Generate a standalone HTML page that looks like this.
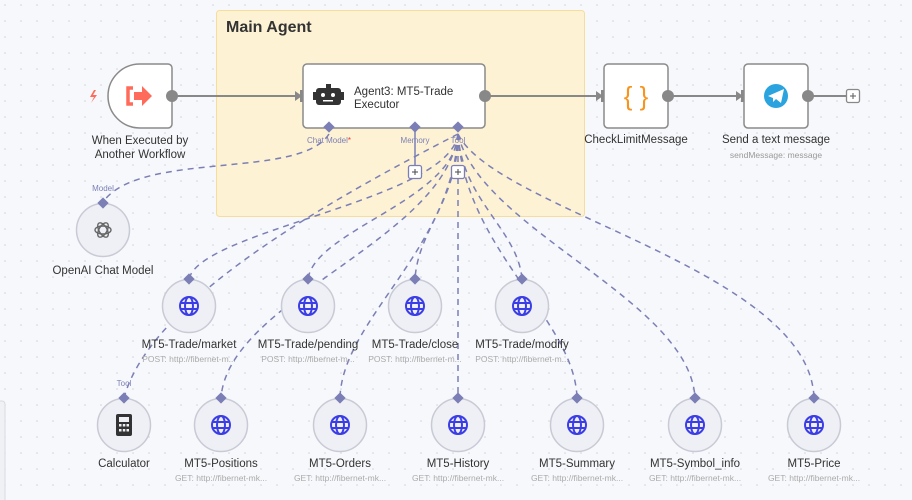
<!DOCTYPE html>
<html><head><meta charset="utf-8"><style>
html,body{margin:0;padding:0;width:912px;height:500px;overflow:hidden;background:#f7f8fb;}
svg{display:block;font-family:"Liberation Sans",sans-serif;}
</style></head><body>
<svg width="912" height="500" viewBox="0 0 912 500" xmlns="http://www.w3.org/2000/svg">
<defs>
<pattern id="dots" width="16" height="16" patternUnits="userSpaceOnUse" x="4" y="4">
<circle cx="1" cy="1" r="0.8" fill="#cfd2da"/></pattern>
<g id="globe"><circle r="9" fill="none" stroke="#3b3de6" stroke-width="2"/><ellipse rx="4" ry="9" fill="none" stroke="#3b3de6" stroke-width="2"/><line x1="-9" y1="-3" x2="9" y2="-3" stroke="#3b3de6" stroke-width="2"/><line x1="-9" y1="3" x2="9" y2="3" stroke="#3b3de6" stroke-width="2"/></g>
</defs>
<rect width="912" height="500" fill="#f7f8fb"/>
<rect width="912" height="500" fill="url(#dots)"/>
<rect x="-4" y="401" width="9" height="110" rx="3" fill="#f0f1f5" stroke="#d8dae2"/>
<!-- group -->
<rect x="216.5" y="10.5" width="368" height="206" rx="3" fill="#fdf2d4" stroke="#f6dd9a"/>
<text x="226" y="32" font-size="16" font-weight="bold" fill="#333">Main Agent</text>

<!-- main connections -->
<g stroke="#888" stroke-width="2" fill="none">
<line x1="172" y1="96" x2="298" y2="96"/>
<line x1="485" y1="96" x2="599" y2="96"/>
<line x1="668" y1="96" x2="739" y2="96"/>
<line x1="808" y1="96" x2="847" y2="96"/>
</g>
<g fill="#888">
<polygon points="295,91 302,96 295,101"/><rect x="300" y="90" width="5" height="12"/>
<polygon points="596,91 603,96 596,101"/><rect x="601" y="90" width="5" height="12"/>
<polygon points="736,91 743,96 736,101"/><rect x="741" y="90" width="5" height="12"/>
</g>

<!-- dashed sub-connections -->
<g stroke="#7c7fb6" stroke-width="1.5" fill="none" stroke-dasharray="6,5">
<path d="M329,134 C300,180 140,150 103,202"/>
<path d="M458,134 C450,200 200,230 189,279"/>
<path d="M458,134 C455,200 315,230 308,279"/>
<path d="M458,134 C458,200 418,230 415,279"/>
<path d="M458,134 C462,200 518,230 522,279"/>
<path d="M458,134 C330,200 150,300 124,398"/>
<path d="M458,134 C445,240 228,300 221,398"/>
<path d="M458,134 C452,250 342,320 340,398"/>
<path d="M458,134 L458,398"/>
<path d="M458,134 C465,250 575,320 577,398"/>
<path d="M458,134 C480,230 690,300 695,398"/>
<path d="M458,134 C495,210 810,270 814,398"/>
</g>
<line x1="415" y1="130" x2="415" y2="166" stroke="#7c7fb6" stroke-width="1.5"/>

<!-- trigger -->
<path d="M140,64 H168 a4,4 0 0 1 4,4 V124 a4,4 0 0 1 -4,4 H140 a32,32 0 0 1 -32,-32 a32,32 0 0 1 32,-32 Z" fill="#fff" stroke="#8a8a8a" stroke-width="1.5"/>
<path d="M133,88 h-5 v16 h5" fill="none" stroke="#ff6b5a" stroke-width="3.5"/>
<polygon points="134,92 142,92 142,86 152,96 142,106 142,100 134,100" fill="#ff6b5a"/>
<path d="M94,90 l-4,7 h4 l-3,6 l6,-8 h-4 l3,-5z" fill="#ff6b5a"/>
<circle cx="172" cy="96" r="6" fill="#888"/>
<text x="140" y="144" font-size="11.5" fill="#333" text-anchor="middle">When Executed by</text>
<text x="140" y="158" font-size="11.5" fill="#333" text-anchor="middle">Another Workflow</text>

<!-- agent -->
<rect x="303" y="64" width="182" height="64" rx="4" fill="#fff" stroke="#8a8a8a" stroke-width="1.5"/>
<rect x="316" y="88" width="25" height="17" rx="3" fill="#333"/>
<rect x="326" y="84" width="5" height="5" fill="#333"/>
<rect x="313" y="92" width="3" height="8" fill="#333"/><rect x="341" y="92" width="3" height="8" fill="#333"/>
<circle cx="323" cy="95" r="2" fill="#fff"/><circle cx="333" cy="95" r="2" fill="#fff"/>
<rect x="323" y="100" width="10" height="1.5" fill="#fff"/>
<text x="354" y="95" font-size="11.5" fill="#333">Agent3: MT5-Trade</text>
<text x="354" y="108" font-size="11.5" fill="#333">Executor</text>
<circle cx="485" cy="96" r="6" fill="#888"/>
<g fill="#7c7fb6">
<rect x="325" y="123" width="8" height="8" transform="rotate(45 329 127)"/>
<rect x="411" y="123" width="8" height="8" transform="rotate(45 415 127)"/>
<rect x="454" y="123" width="8" height="8" transform="rotate(45 458 127)"/>
</g>
<g font-size="8" fill="#7c7fb6" text-anchor="middle">
<text x="329" y="143">Chat Model<tspan fill="#e33">*</tspan></text>
<text x="415" y="143">Memory</text>
<text x="458" y="143">Tool</text>
</g>
<g fill="#fff" stroke="#7c7fb6" stroke-width="1.3">
<rect x="408.5" y="165.5" width="13" height="13" rx="2"/>
<rect x="451.5" y="165.5" width="13" height="13" rx="2"/>
</g>
<g stroke="#555" stroke-width="1.1"><line x1="412" y1="172" x2="418" y2="172"/><line x1="415" y1="169" x2="415" y2="175"/><line x1="455" y1="172" x2="461" y2="172"/><line x1="458" y1="169" x2="458" y2="175"/></g>

<!-- CheckLimit -->
<rect x="604" y="64" width="64" height="64" rx="4" fill="#fff" stroke="#8a8a8a" stroke-width="1.5"/>
<text x="636" y="105" font-size="26" fill="#f7931e" text-anchor="middle">{ }</text>
<circle cx="668" cy="96" r="6" fill="#888"/>
<text x="636" y="143" font-size="11.5" fill="#333" text-anchor="middle">CheckLimitMessage</text>

<!-- Telegram -->
<rect x="744" y="64" width="64" height="64" rx="4" fill="#fff" stroke="#8a8a8a" stroke-width="1.5"/>
<circle cx="776" cy="96" r="12" fill="#2aa3de"/>
<polygon points="768,96 784,89 781,103 776,99 773,102 773,98" fill="#fff"/>
<circle cx="808" cy="96" r="6" fill="#888"/>
<text x="776" y="143" font-size="11.5" fill="#333" text-anchor="middle">Send a text message</text>
<text x="776" y="158" font-size="8.5" fill="#999" text-anchor="middle">sendMessage: message</text>
<rect x="846.5" y="89.5" width="13" height="13" rx="2" fill="#fff" stroke="#888" stroke-width="1.3"/>
<g stroke="#666" stroke-width="1.1"><line x1="850" y1="96" x2="856" y2="96"/><line x1="853" y1="93" x2="853" y2="99"/></g>

<!-- OpenAI -->
<circle cx="103" cy="230" r="26.5" fill="#eef0f5" stroke="#c8cad6" stroke-width="1.5"/>
<g fill="none" stroke="#666" stroke-width="1.4">
<ellipse cx="103" cy="230" rx="8" ry="4" /><ellipse cx="103" cy="230" rx="8" ry="4" transform="rotate(60 103 230)"/><ellipse cx="103" cy="230" rx="8" ry="4" transform="rotate(-60 103 230)"/>
</g>
<rect x="99" y="199" width="8" height="8" fill="#7c7fb6" transform="rotate(45 103 203)"/>
<text x="103" y="191" font-size="8" fill="#7c7fb6" text-anchor="middle">Model</text>
<text x="103" y="274" font-size="11.5" fill="#333" text-anchor="middle">OpenAI Chat Model</text>

<g font-size="11.5" fill="#333" text-anchor="middle">
<g transform="translate(189,306)"><circle r="26.5" fill="#eef0f5" stroke="#c8cad6" stroke-width="1.5"/><use href="#globe"/><rect x="-4" y="-31" width="8" height="8" fill="#7c7fb6" transform="rotate(45 0 -27)"/><text y="42">MT5-Trade/market</text><text y="56" font-size="8.5" fill="#aaa">POST: http://fibernet-m...</text></g>
<g transform="translate(308,306)"><circle r="26.5" fill="#eef0f5" stroke="#c8cad6" stroke-width="1.5"/><use href="#globe"/><rect x="-4" y="-31" width="8" height="8" fill="#7c7fb6" transform="rotate(45 0 -27)"/><text y="42">MT5-Trade/pending</text><text y="56" font-size="8.5" fill="#aaa">POST: http://fibernet-m...</text></g>
<g transform="translate(415,306)"><circle r="26.5" fill="#eef0f5" stroke="#c8cad6" stroke-width="1.5"/><use href="#globe"/><rect x="-4" y="-31" width="8" height="8" fill="#7c7fb6" transform="rotate(45 0 -27)"/><text y="42">MT5-Trade/close</text><text y="56" font-size="8.5" fill="#aaa">POST: http://fibernet-m...</text></g>
<g transform="translate(522,306)"><circle r="26.5" fill="#eef0f5" stroke="#c8cad6" stroke-width="1.5"/><use href="#globe"/><rect x="-4" y="-31" width="8" height="8" fill="#7c7fb6" transform="rotate(45 0 -27)"/><text y="42">MT5-Trade/modify</text><text y="56" font-size="8.5" fill="#aaa">POST: http://fibernet-m...</text></g>

<g transform="translate(124,425)"><circle r="26.5" fill="#eef0f5" stroke="#c8cad6" stroke-width="1.5"/>
<rect x="-8" y="-11" width="16" height="22" rx="2" fill="#333"/><rect x="-5" y="-8" width="10" height="5" fill="#eef0f5"/>
<g fill="#eef0f5"><rect x="-5" y="-1" width="2.5" height="2.5"/><rect x="-1.2" y="-1" width="2.5" height="2.5"/><rect x="2.5" y="-1" width="2.5" height="2.5"/><rect x="-5" y="4" width="2.5" height="2.5"/><rect x="-1.2" y="4" width="2.5" height="2.5"/><rect x="2.5" y="4" width="2.5" height="2.5"/></g>
<rect x="-4" y="-31" width="8" height="8" fill="#7c7fb6" transform="rotate(45 0 -27)"/><text y="-39" font-size="8" fill="#7c7fb6">Tool</text><text y="42">Calculator</text></g>
<g transform="translate(221,425)"><circle r="26.5" fill="#eef0f5" stroke="#c8cad6" stroke-width="1.5"/><use href="#globe"/><rect x="-4" y="-31" width="8" height="8" fill="#7c7fb6" transform="rotate(45 0 -27)"/><text y="42">MT5-Positions</text><text y="56" font-size="8.5" fill="#aaa">GET: http://fibernet-mk...</text></g>
<g transform="translate(340,425)"><circle r="26.5" fill="#eef0f5" stroke="#c8cad6" stroke-width="1.5"/><use href="#globe"/><rect x="-4" y="-31" width="8" height="8" fill="#7c7fb6" transform="rotate(45 0 -27)"/><text y="42">MT5-Orders</text><text y="56" font-size="8.5" fill="#aaa">GET: http://fibernet-mk...</text></g>
<g transform="translate(458,425)"><circle r="26.5" fill="#eef0f5" stroke="#c8cad6" stroke-width="1.5"/><use href="#globe"/><rect x="-4" y="-31" width="8" height="8" fill="#7c7fb6" transform="rotate(45 0 -27)"/><text y="42">MT5-History</text><text y="56" font-size="8.5" fill="#aaa">GET: http://fibernet-mk...</text></g>
<g transform="translate(577,425)"><circle r="26.5" fill="#eef0f5" stroke="#c8cad6" stroke-width="1.5"/><use href="#globe"/><rect x="-4" y="-31" width="8" height="8" fill="#7c7fb6" transform="rotate(45 0 -27)"/><text y="42">MT5-Summary</text><text y="56" font-size="8.5" fill="#aaa">GET: http://fibernet-mk...</text></g>
<g transform="translate(695,425)"><circle r="26.5" fill="#eef0f5" stroke="#c8cad6" stroke-width="1.5"/><use href="#globe"/><rect x="-4" y="-31" width="8" height="8" fill="#7c7fb6" transform="rotate(45 0 -27)"/><text y="42">MT5-Symbol_info</text><text y="56" font-size="8.5" fill="#aaa">GET: http://fibernet-mk...</text></g>
<g transform="translate(814,425)"><circle r="26.5" fill="#eef0f5" stroke="#c8cad6" stroke-width="1.5"/><use href="#globe"/><rect x="-4" y="-31" width="8" height="8" fill="#7c7fb6" transform="rotate(45 0 -27)"/><text y="42">MT5-Price</text><text y="56" font-size="8.5" fill="#aaa">GET: http://fibernet-mk...</text></g>
</g>
</svg>
</body></html>
